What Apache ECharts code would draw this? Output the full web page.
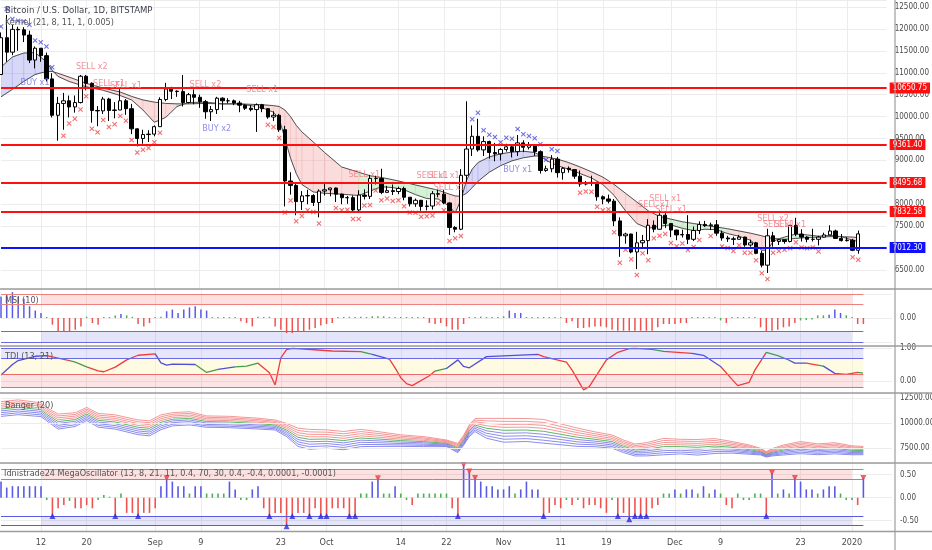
<!DOCTYPE html>
<html>
<head>
<meta charset="utf-8">
<script src="https://cdn.jsdelivr.net/npm/echarts@6/dist/echarts.min.js"></script>
<style>
html,body{margin:0;padding:0;background:#ffffff;}
#chart{width:932px;height:550px;}
</style>
</head>
<body>
<div id="chart"></div>
<script>
// ================= DATA =================
const categoryCount = 157; // Aug 5 2019 .. Jan 9 2020 (daily)
const tickDates = ['2019-08-12','2019-08-20','2019-09-01','2019-09-09','2019-09-23','2019-10-01','2019-10-14','2019-10-22','2019-11-01','2019-11-11','2019-11-19','2019-12-01','2019-12-09','2019-12-23','2020-01-01'];
const tickLabels = ['12','20','Sep','9','23','Oct','14','22','Nov','11','19','Dec','9','23','2020'];

const open = [10960,11800,11470,11990,11980,11860,11290,11560,11390,10860,
10030,10300,10360,10220,10320,10920,10760,10140,10130,10400,
10140,10150,10360,10180,9720,9500,9590,9600,9770,10390,
10630,10580,10570,10320,10500,10440,10340,10110,10160,10420,
10360,10360,10310,10260,10190,10160,10270,10180,9990,10030,
9700,8530,8430,8060,8190,8200,8040,8300,8330,8370,
8230,8150,8150,7870,8210,8180,8590,8590,8270,8310,
8290,8360,8160,8010,8090,7950,7960,8240,8230,8030,
7470,7430,8660,9260,9550,9240,9430,9180,9150,9250,
9310,9200,9400,9300,9340,9200,8770,8810,9030,8720,
8820,8790,8640,8460,8490,8500,8170,8120,8070,7620,
7280,7320,6910,7120,7170,7520,7430,7750,7560,7410,
7300,7310,7200,7400,7540,7510,7530,7340,7230,7210,
7200,7250,7070,7120,6880,6610,7280,7150,7190,7150,
7520,7320,7250,7200,7200,7250,7300,7390,7220,7170,
7180,6950];
const high = [11920,12320,12090,12050,12040,11960,11600,11560,11460,10990,
10450,10540,10480,10480,10950,10950,10780,10240,10450,10430,
10330,10630,10400,10290,9730,9700,9690,9800,10440,10770,
10680,10600,10950,10540,10620,10500,10380,10240,10450,10440,
10420,10390,10360,10280,10260,10300,10290,10190,10120,10060,
9790,8730,8470,8300,8330,8230,8340,8500,8380,8380,
8240,8190,8200,8320,8340,8670,8650,8810,8420,8450,
8400,8400,8160,8130,8100,8090,8300,8340,8330,8040,
7500,8800,10350,9800,9950,9550,9450,9400,9280,9380,
9360,9580,9460,9420,9370,9230,8880,9120,9080,8850,
8860,8800,8770,8530,8650,8500,8200,8220,8120,7700,
7350,7330,7370,7300,7660,7630,7860,7820,7560,7420,
7420,7750,7490,7610,7620,7580,7640,7400,7280,7260,
7300,7260,7190,7140,6940,7440,7370,7210,7190,7520,
7690,7430,7270,7440,7280,7350,7520,7420,7320,7250,
7210,7400];
const low = [10960,11250,11400,11500,11700,11220,11100,11250,10800,9980,
9450,9700,9980,10090,10300,10600,9860,9780,10060,9900,
9960,10150,10040,9600,9320,9380,9420,9550,9770,10350,
10400,10450,10230,10300,10280,10200,9950,9900,10060,10150,
10300,10260,10100,10150,10120,9650,10100,9950,9900,9650,
7950,8220,7750,7870,8000,7960,7700,8200,8180,8050,
8000,8010,7800,7800,8110,8120,8450,8230,8270,8210,
8230,8090,7950,7940,7850,7860,7880,8160,8000,7300,
7360,7410,8500,9100,9200,9100,9040,8980,9000,9200,
9070,9100,9190,9250,9100,8700,8740,8730,8610,8560,
8720,8580,8400,8430,8420,8080,8000,8020,7500,6800,
7100,6880,6520,7020,6860,7360,7420,7460,7250,7180,
7240,7090,7160,7320,7480,7410,7280,7170,7140,7070,
7200,7030,7030,6860,6560,6430,7030,7070,7100,7130,
7270,7150,7130,7150,7060,7240,7290,7230,7150,7150,
6930,6870];
const close = [11800,11470,11990,11980,11860,11290,11560,11390,10860,10030,
10300,10360,10220,10320,10920,10760,10140,10130,10400,10140,
10150,10360,10180,9720,9500,9590,9600,9770,10390,10630,
10580,10570,10320,10500,10440,10340,10110,10160,10420,10360,
10360,10310,10260,10190,10160,10270,10180,9990,10030,9700,
8530,8430,8060,8190,8200,8040,8300,8330,8370,8230,
8150,8150,7870,8210,8180,8590,8590,8270,8310,8290,
8360,8160,8010,8090,7950,7960,8240,8230,8030,7470,
7430,8660,9260,9550,9240,9430,9180,9150,9250,9310,
9200,9400,9300,9340,9200,8770,8810,9030,8720,8820,
8790,8640,8460,8490,8500,8170,8120,8070,7620,7280,
7320,6910,7120,7170,7520,7430,7750,7560,7410,7300,
7310,7200,7400,7540,7510,7530,7340,7230,7210,7200,
7250,7070,7120,6880,6610,7280,7150,7190,7150,7520,
7320,7250,7200,7200,7250,7300,7390,7220,7170,7180,
6950,7324];

const levelValues = [10650.75, 9361.40, 8495.68, 7832.58, 7012.30];
const lastPrice = 7323.78;

// Kernel bands (fast / slow lines, fill zone code: b=blue, p=pink, g=green)
const maIdx = [0,2,4,6,8,9,10,12,15,18,21,23,25,27,29,31,33,36,39,42,44,46,48,49,50,51,52,53,55,57,60,63,65,67,69,71,73,75,77,79,80,81,82,83,84,86,88,90,92,94,95,96,98,100,102,104,106,108,110,112,114,116,118,120,122,124,126,128,130,132,134,135,136,137,138,140,142,144,146,148,150,151];
const maFast = [11130,11360,11450,11460,11250,11060,10920,10800,10680,10600,10480,10380,10150,9870,9980,10230,10320,10330,10290,10290,10250,10200,10100,9950,9500,9050,8700,8450,8280,8250,8230,8200,8300,8400,8380,8330,8220,8130,8120,7950,7800,8100,8550,8800,8950,9080,9150,9190,9210,9180,9110,9000,8880,8800,8700,8600,8450,8200,7850,7560,7450,7500,7530,7450,7400,7430,7420,7330,7270,7180,6950,6950,7150,7210,7250,7320,7300,7270,7290,7260,7180,7150];
const maSlow = [10450,10620,10800,10960,11030,11030,10990,10900,10760,10650,10560,10460,10380,10330,10300,10290,10290,10300,10290,10290,10280,10270,10250,10230,10150,10000,9800,9650,9420,9180,8850,8730,8650,8610,8560,8500,8440,8380,8320,8230,8190,8180,8250,8380,8520,8730,8880,8990,9060,9100,9100,9080,9030,8950,8850,8740,8620,8450,8250,8050,7850,7720,7660,7600,7560,7520,7480,7440,7390,7340,7280,7240,7220,7210,7200,7220,7240,7250,7260,7260,7250,7240];
const maZone = ('bbbbb'+'pppppppppp'+'gggg'+'pppppppppppp'+'ggggggg'+'ppp'+'bbbbbbbbb'+'ppppppppppp'+'gggggg'+'pppppp'+'gggggg'+'ppp').split('');

const redCrossIdx = [11,12,13,14,15,16,17,18,19,20,21,22,23,24,25,26,27,28,47,48,49,50,51,52,53,54,55,56,59,60,61,62,63,64,65,66,67,68,69,70,71,72,73,74,75,76,77,78,79,80,81,102,103,104,105,106,107,108,109,110,111,112,113,114,115,116,117,118,119,120,121,122,123,125,127,128,129,130,131,132,133,134,135,136,137,138,139,140,141,142,143,144,150,151];
const blueCrossIdx = [0,1,2,3,4,5,6,7,8,9,83,84,85,86,87,88,89,90,91,92,93,94,95,96,97,98];

const annIdx = [6,16,19,22,36,38,46,64,76,78,79,91,117,115,118,136,137,139];
const annPrice = [10773,11138,10759,10698,10720,9732,10622,8683,8645,8645,8370,8797,8135,8000,7885,7680,7527,7527];
const annText = ['BUY x1','SELL x2','SELL x1','SELL x1','SELL x2','BUY x2','SELL x1','SELL x1','SELL x1','SELL x1','SELL x1','BUY x1','SELL x1','SELL x1','SELL x1','SELL x2','SELL x1','SELL x1'];

const msiValues = [0.9,1.0,1.08,0.9,0.8,0.49,0.31,0.21,0.02,-0.28,
-0.56,-0.56,-0.56,-0.49,-0.35,0.05,-0.21,-0.28,0.04,0.03,
0.1,0.17,0.11,0.05,-0.25,-0.35,-0.21,0.0,0.05,0.28,
0.35,0.21,0.35,0.44,0.49,0.35,0.31,0.04,0.03,0.03,
0.03,0.04,-0.14,-0.21,-0.35,0.05,0.04,0.05,-0.35,-0.49,
-0.63,-0.63,-0.56,-0.56,-0.49,-0.42,-0.31,-0.25,-0.21,0.04,
0.04,0.05,0.04,0.05,0.04,0.07,0.07,0.07,0.0,0.0,
0.03,0.03,0.03,0.03,0.0,-0.21,-0.25,-0.21,-0.35,-0.49,
-0.49,-0.25,0.03,0.04,0.06,0.03,0.0,0.04,0.07,0.31,
0.21,0.21,0.04,0.03,0.02,0.03,0.03,0.04,0.03,-0.21,
-0.14,-0.42,-0.42,-0.39,-0.35,-0.35,-0.39,-0.49,-0.53,-0.53,
-0.53,-0.53,-0.53,-0.53,-0.53,-0.39,-0.25,-0.25,-0.25,-0.21,
-0.21,0.04,0.03,0.0,0.04,0.0,-0.1,-0.21,0.03,0.03,
0.0,0.04,0.04,-0.39,-0.56,-0.53,-0.49,-0.39,-0.35,-0.21,
-0.1,-0.08,-0.06,0.11,0.11,0.14,0.35,0.21,0.11,0.0,
-0.25,-0.25];

const tdiIdx = [0,2,3,6,8,9,12,13,15,17,18,20,22,24,27,28,29,30,34,36,38,41,43,45,47,48,49,50,51,53,58,63,65,68,69,70,71,72,75,76,78,80,81,82,85,89,94,95,99,100,102,103,106,108,110,111,114,116,121,123,126,128,129,131,132,134,136,138,139,141,143,144,146,148,150,151];
const tdiValues = [0.18,0.5,0.62,0.75,0.77,0.73,0.62,0.57,0.43,0.31,0.28,0.42,0.64,0.78,0.82,0.55,0.48,0.51,0.5,0.26,0.35,0.43,0.45,0.54,0.25,-0.12,0.7,0.95,0.99,0.97,0.91,0.89,0.81,0.66,0.4,0.1,-0.08,-0.14,0.16,0.3,0.38,0.64,0.44,0.4,0.74,0.77,0.81,0.74,0.57,0.33,-0.27,-0.17,0.64,0.87,0.98,0.99,0.96,0.9,0.84,0.78,0.44,0.05,-0.14,-0.04,0.33,0.87,0.77,0.63,0.54,0.54,0.48,0.45,0.23,0.2,0.26,0.24];
const tdiColor = ('bbbbrrggrrrrrrbbbbggbgg'+'rrrrrrrr'+'g'+'b'+'rrrrrr'+'g'+'bbbbbb'+'rrrrrrrrrr'+'g'+'r'+'bb'+'rrrrr'+'gg'+'bb'+'r'+'g'+'b'+'rr'+'gg').split('');

const bangerIdx = [0,3,7,8,10,13,15,17,20,24,26,28,30,33,36,40,45,48,50,52,54,57,60,63,66,70,74,78,80,81,82,83,85,88,92,95,98,101,104,107,109,111,113,116,119,122,125,128,131,133,134,135,137,140,143,146,149,151];
const bangerMid = [11430,11600,11360,10900,10170,10370,10930,10300,10130,9600,9500,10100,10400,10500,10170,10130,9970,9830,9330,8600,8400,8430,8270,8530,8430,8270,8170,8000,7530,8300,9260,9830,9500,9300,9330,9200,8900,8600,8400,8170,7700,7330,7400,7670,7670,7600,7730,7600,7370,7170,6900,7100,7330,7570,7400,7500,7300,7270];
const bangerStep = [185,185,172,165,188,172,165,172,178,185,188,185,165,165,142,142,135,125,165,228,248,228,228,215,185,145,125,83,116,125,145,165,248,297,287,297,261,228,185,165,157,149,165,205,182,195,185,145,116,83,69,92,124,152,135,140,112,102];
const bangerTicks = [7500, 10000, 12500];

const megaValues = [0.35,0.22,0.25,0.25,0.25,0.25,0.25,0.25,-0.05,-0.4,
-0.23,-0.16,-0.07,-0.23,-0.23,-0.16,-0.23,-0.05,0.06,0.0,
-0.4,0.09,-0.33,-0.33,-0.4,-0.33,-0.33,-0.23,0.25,0.42,
0.35,0.25,0.25,0.09,0.25,0.25,0.09,0.09,0.09,0.09,
0.35,0.18,-0.05,-0.05,0.18,0.25,-0.23,-0.4,-0.33,-0.33,
-0.62,-0.4,-0.33,-0.33,-0.4,-0.23,-0.4,-0.4,-0.23,-0.23,
-0.23,-0.4,-0.4,0.09,0.09,0.35,0.42,0.09,0.09,0.25,
0.09,-0.05,-0.16,0.09,0.09,0.09,0.09,0.09,0.09,-0.23,
-0.4,0.71,0.57,0.43,0.35,0.25,0.25,0.18,0.18,0.25,
0.09,0.18,0.35,0.18,0.18,-0.4,-0.33,-0.16,-0.23,-0.05,
-0.16,-0.05,-0.23,-0.16,-0.16,-0.23,-0.33,-0.05,-0.4,-0.33,
-0.47,-0.4,-0.4,-0.4,-0.23,-0.16,0.09,0.09,0.18,0.09,
0.18,0.18,0.09,0.25,0.09,0.18,0.09,-0.16,-0.23,0.09,
-0.05,-0.05,0.09,0.09,-0.4,0.54,0.09,0.18,0.09,0.43,
0.35,0.18,0.18,0.09,0.18,0.25,0.25,0.09,-0.05,-0.05,
-0.16,0.43];

// ================= STYLE / LAYOUT =================
const FONT = "'Liberation Sans Narrow','DejaVu Sans Condensed','Liberation Sans',Arial,sans-serif";
const GRID_L = 1.02, GRID_R = 40.06;
const panes = [{top:0,h:289},{top:289,h:57},{top:346,h:47},{top:393,h:70},{top:463,h:68.7}];
const GRIDLINE = '#ececec';
const AXIS_TXT = '#4a4a4a';
const FILL = {b:'rgba(110,110,225,0.28)', p:'rgba(240,140,140,0.30)', g:'rgba(140,215,140,0.35)'};
const LINECOL = {b:'#4f4fd8', r:'#ef3b3b', g:'#43a047'};
const UPC = '#5a5ae6', DNC = '#ef5350', NEU = '#4caf50';
const SELLC = '#f0737d', BUYC = '#6f6fe6';
const levelColors = ['#ff1010','#ff1010','#ff1010','#ff1010','#1010ff'];

// categories
const dates = [];
(function(){ const t0 = Date.UTC(2019,7,5); for (let i=0;i<categoryCount;i++) dates.push(new Date(t0+i*864e5).toISOString().slice(0,10)); })();
const tickSet = new Set(tickDates.map(d=>dates.indexOf(d)));
const tickText = {}; tickDates.forEach((d,i)=>{tickText[d]=tickLabels[i];});
const lastIdx = close.length - 1;

function oscColor(v){ return v >= 0.12 ? UPC : (v <= -0.12 ? DNC : NEU); }
function bandArea(a,b,color){ return [{xAxis:dates[0], yAxis:a, itemStyle:{color:color}}, {xAxis:dates[lastIdx], yAxis:b}]; }
function bandLine(v,color){ return [{coord:[dates[0], v], lineStyle:{color:color,width:1,type:'solid'}}, {coord:[dates[lastIdx], v]}]; }

const xAxes = panes.map((p,k)=>({
  type:'category', gridIndex:k, data:dates, boundaryGap:false,
  axisLine:{show:false}, axisTick:{show:false},
  axisLabel:{show:k===4, interval:(i)=>tickSet.has(i), formatter:(v)=>tickText[v]||'', color:AXIS_TXT, fontSize:9, fontFamily:FONT, margin:6},
  splitLine:{show:true, interval:(i)=>tickSet.has(i), lineStyle:{color:GRIDLINE,width:1}}
}));
const yBase = {position:'right', axisLine:{show:false}, axisTick:{show:false}, splitLine:{show:true, lineStyle:{color:GRIDLINE}}};
const lab = (fmt)=>({color:AXIS_TXT, fontSize:8, fontFamily:FONT, margin:8, showMinLabel:false, showMaxLabel:false, formatter:fmt});
const yAxes = [
  Object.assign({}, yBase, {gridIndex:0, min:6066, max:12660, splitNumber:13, axisLabel:lab(v=>Math.abs(v/500-Math.round(v/500))<1e-6 ? v.toFixed(2) : '')}),
  Object.assign({}, yBase, {gridIndex:1, min:-1.167, max:1.208, splitNumber:2, axisLabel:lab(v=>Math.abs(v)<1e-9 ? '0.00' : '')}),
  Object.assign({}, yBase, {gridIndex:2, min:-0.364, max:1.061, splitNumber:1, axisLabel:lab(v=>(Math.abs(v)<1e-9||Math.abs(v-1)<1e-9) ? v.toFixed(2) : '')}),
  Object.assign({}, yBase, {gridIndex:3, min:6030, max:13030, splitLine:{show:false}, axisLabel:{show:false}}),
  Object.assign({}, yBase, {gridIndex:4, min:-0.739, max:0.754, splitNumber:3, axisLabel:lab(v=>Math.abs(v*2-Math.round(v*2))<1e-6 ? v.toFixed(2) : '')})
];

const series = [];
// ---- main pane ----
const maSegs = [];
for (let i=0;i<maIdx.length-1;i++) maSegs.push([maIdx[i], maFast[i], maSlow[i], maIdx[i+1], maFast[i+1], maSlow[i+1], 'bpg'.indexOf(maZone[i])]);
const zoneKeys = ['b','p','g'];
series.push({type:'custom', xAxisIndex:0, yAxisIndex:0, silent:true, clip:true, z:1,
  encode:{x:[0,3], y:[1,2,4,5]}, data:maSegs,
  renderItem:function(params, api){
    const x0=api.value(0), f0=api.value(1), s0=api.value(2), x1=api.value(3), f1=api.value(4), s1=api.value(5);
    const c = FILL[zoneKeys[api.value(6)]];
    return {type:'polygon', shape:{points:[api.coord([x0,f0]), api.coord([x1,f1]), api.coord([x1,s1]), api.coord([x0,s0])]}, style:{fill:c, stroke:c, lineWidth:0.5}};
  }});
series.push({type:'line', xAxisIndex:0, yAxisIndex:0, z:2, silent:true, symbol:'none', data:maIdx.map((x,i)=>[x, maFast[i]]), lineStyle:{color:'#505050', width:1}});
series.push({type:'line', xAxisIndex:0, yAxisIndex:0, z:2, silent:true, symbol:'none', data:maIdx.map((x,i)=>[x, maSlow[i]]), lineStyle:{color:'#505050', width:1}});
series.push({type:'candlestick', xAxisIndex:0, yAxisIndex:0, z:3, barWidth:3.8,
  data: open.map((o,i)=>[o, close[i], low[i], high[i]]),
  itemStyle:{color:'#ffffff', color0:'#000000', borderColor:'#000000', borderColor0:'#000000', borderWidth:1},
  markLine:{silent:true, symbol:['none','none'], animation:false,
    data: levelValues.map((v,i)=>({yAxis:v, lineStyle:{color:levelColors[i], width:2, type:'solid'},
      label:{show:true, position:'end', distance:3, formatter:v.toFixed(2), color:'#ffffff', backgroundColor:levelColors[i], padding:[2,3,1,3], fontSize:8, fontFamily:FONT}}))
      .concat([{yAxis:lastPrice, lineStyle:{opacity:0}, label:{show:true, position:'end', distance:8, formatter:lastPrice.toFixed(2), color:'#333333', fontSize:8, fontFamily:FONT}}])
  }});
const crossPath = 'path://M0,1.5L1.5,0L5,3.5L8.5,0L10,1.5L6.5,5L10,8.5L8.5,10L5,6.5L1.5,10L0,8.5L3.5,5Z';
series.push({type:'scatter', xAxisIndex:0, yAxisIndex:0, z:4, silent:true, symbol:crossPath, symbolSize:5, symbolOffset:[0,6],
  itemStyle:{color:'#f04848'}, data:redCrossIdx.map(i=>[i, low[i]])});
series.push({type:'scatter', xAxisIndex:0, yAxisIndex:0, z:4, silent:true, symbol:crossPath, symbolSize:5, symbolOffset:[0,-6],
  itemStyle:{color:'#4a4ae0'}, data:blueCrossIdx.map(i=>[i, high[i]])});
series.push({type:'scatter', xAxisIndex:0, yAxisIndex:0, z:5, silent:true, symbolSize:0,
  data: annIdx.map((x,i)=>({value:[x, annPrice[i]], label:{show:true, position:'inside', formatter:annText[i], color: annText[i].indexOf('BUY')===0 ? BUYC : SELLC, fontSize:9, fontFamily:FONT}}))});

// ---- MSI ----
series.push({type:'bar', xAxisIndex:1, yAxisIndex:1, barWidth:1.5, barMinHeight:1, silent:true,
  data: msiValues, itemStyle:{color:(p)=>oscColor(p.value)},
  markArea:{silent:true, data:[bandArea(0.56,1.0,'rgba(244,120,120,0.22)'), bandArea(-1.0,-0.56,'rgba(110,110,230,0.18)')]},
  markLine:{silent:true, symbol:['none','none'], label:{show:false}, data:[bandLine(1.0,'#f08080'), bandLine(0.56,'#f08080'), bandLine(-0.56,'#6a6ae6'), bandLine(-1.0,'#6a6ae6')]}
});
// ---- TDI ----
const tdiSeriesIndex = series.length;
series.push({type:'line', xAxisIndex:2, yAxisIndex:2, symbol:'none', silent:true, lineStyle:{width:1.3},
  data: tdiIdx.map((x,i)=>[x, tdiValues[i]]),
  markArea:{silent:true, data:[bandArea(0.7,1.0,'rgba(120,120,235,0.18)'), bandArea(0.2,0.7,'rgba(255,245,190,0.45)'), bandArea(-0.2,0.2,'rgba(244,120,120,0.20)')]},
  markLine:{silent:true, symbol:['none','none'], label:{show:false}, data:[bandLine(1.0,'#6a6ae6'), bandLine(0.7,'#6a6ae6'), bandLine(0.2,'#ef6a6a'), bandLine(-0.2,'#ef6a6a')]}
});
const tdiPieces = [];
for (let i=0;i<tdiIdx.length-1;i++){
  const pc = {gte:tdiIdx[i], color:LINECOL[tdiColor[i]]};
  if (i < tdiIdx.length-2) pc.lt = tdiIdx[i+1]; else pc.lte = tdiIdx[i+1];
  tdiPieces.push(pc);
}
// ---- Banger ----
const bangerLine = (vals, color, w)=>({type:'line', xAxisIndex:3, yAxisIndex:3, symbol:'none', silent:true, z:2,
  data: bangerIdx.map((x,i)=>[x, vals[i]]), lineStyle:{color:color, width:w}});
for (let k=4;k>=1;k--) series.push(bangerLine(bangerMid.map((m,i)=>m + k*bangerStep[i]), 'rgba(238,110,110,0.8)', 0.9));
for (let k=1;k<=4;k++) series.push(bangerLine(bangerMid.map((m,i)=>m - k*bangerStep[i]), 'rgba(95,95,230,0.8)', 0.9));
const mid = bangerLine(bangerMid, '#4caf50', 0.9);
mid.markLine = {silent:true, symbol:['none','none'],
  data: bangerTicks.map(v=>({yAxis:v, lineStyle:{color:GRIDLINE, width:1, type:'solid'},
    label:{show:true, position:'end', distance:8, formatter:v.toFixed(2), color:AXIS_TXT, fontSize:8, fontFamily:FONT}}))};
mid.z = 1.9;
series.push(mid);
// ---- Mega oscillator ----
series.push({type:'bar', xAxisIndex:4, yAxisIndex:4, barWidth:1.6, barMinHeight:1, silent:true,
  data: megaValues, itemStyle:{color:(p)=>oscColor(p.value)},
  markArea:{silent:true, data:[bandArea(0.4,0.62,'rgba(244,120,120,0.22)'), bandArea(-0.6,-0.4,'rgba(110,110,230,0.18)')]},
  markLine:{silent:true, symbol:['none','none'], label:{show:false}, data:[bandLine(0.62,'#ef6a6a'), bandLine(0.4,'#ef6a6a'), bandLine(-0.4,'#5a5ae6'), bandLine(-0.6,'#5a5ae6')]}
});
const megaTop = [], megaBot = [];
megaValues.forEach((v,i)=>{ if (v >= 0.4) megaTop.push([i,v]); if (v <= -0.4) megaBot.push([i,v]); });
series.push({type:'scatter', xAxisIndex:4, yAxisIndex:4, z:5, silent:true, symbol:'triangle', symbolRotate:180, symbolSize:[6,6], itemStyle:{color:'#f03a3a'}, data:megaTop});
series.push({type:'scatter', xAxisIndex:4, yAxisIndex:4, z:5, silent:true, symbol:'triangle', symbolSize:[6,6], itemStyle:{color:'#2b2bd8'}, data:megaBot});

// ---- graphics (pane titles, separators) ----
const txt = (x,y,t,size,color)=>({type:'text', x:x, y:y, z:100, silent:true, style:{text:t, fill:color, font:size+'px '+FONT, textVerticalAlign:'middle', verticalAlign:'middle'}});
const sep = (y)=>({type:'line', z:90, silent:true, shape:{x1:0,y1:y,x2:932,y2:y}, style:{stroke:'#9c9c9c', lineWidth:1.3}});
const graphic = [
  sep(289), sep(346), sep(393), sep(463), sep(531.5),
  {type:'line', z:90, silent:true, shape:{x1:895,y1:0,x2:895,y2:550}, style:{stroke:'#9c9c9c', lineWidth:1.2}},
  txt(5,11,'Bitcoin / U.S. Dollar, 1D, BITSTAMP',9.5,'#3c3f4a'),
  txt(5,23,'Kernel (21, 8, 11, 1, 0.005)',9,'#555555'),
  txt(5,301,'MSI (10)',9,'#555555'),
  txt(5,357,'TDI (13, 21)',9,'#555555'),
  txt(5,406,'Banger (20)',9,'#555555'),
  txt(4,474,'Idnistrade24 MegaOscillator (13, 8, 21, 11, 0.4, 70, 30, 0.4, -0.4, 0.0001, -0.0001)',9,'#555555')
];

const chart = echarts.init(document.getElementById('chart'));
chart.setOption({
  animation:false,
  backgroundColor:'#ffffff',
  textStyle:{fontFamily:FONT},
  grid: panes.map(p=>({left:GRID_L, right:GRID_R, top:p.top, height:p.h, containLabel:false})),
  xAxis: xAxes,
  yAxis: yAxes,
  visualMap:[{type:'piecewise', show:false, seriesIndex:tdiSeriesIndex, dimension:0, pieces:tdiPieces}],
  series: series,
  graphic: graphic
});
</script>
</body>
</html>
